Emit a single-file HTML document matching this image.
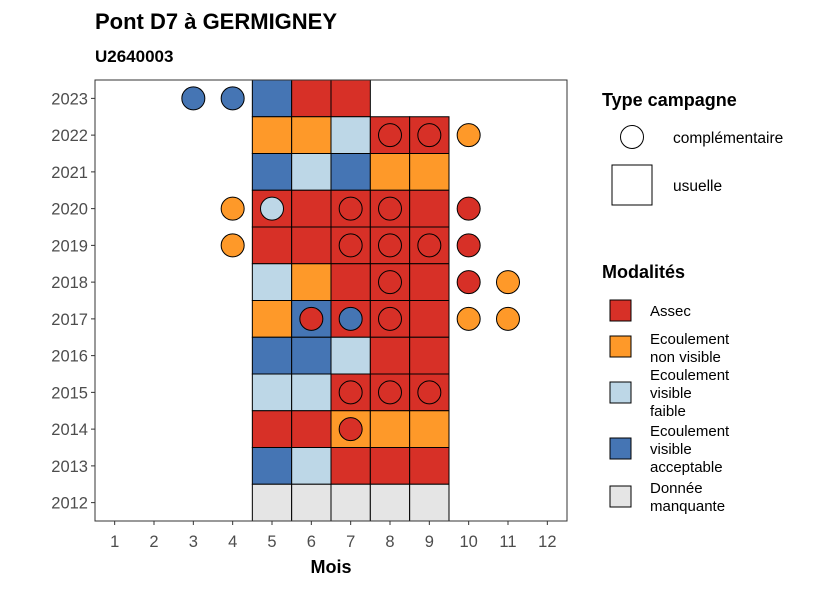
<!DOCTYPE html>
<html><head><meta charset="utf-8"><style>
body{margin:0;background:#fff;font-family:"Liberation Sans",sans-serif}
</style></head><body>
<svg id="c" width="826" height="590" xmlns="http://www.w3.org/2000/svg" font-family="Liberation Sans, sans-serif">
<text x="95" y="29" font-size="22" font-weight="bold">Pont D7 à GERMIGNEY</text>
<text x="95" y="62" font-size="17" font-weight="bold">U2640003</text>
<g id="plot"></g>
<rect x="95" y="80" width="472" height="441" fill="none" stroke="#333" stroke-width="1"/>
<text x="331" y="573" font-size="18" font-weight="bold" text-anchor="middle">Mois</text>
<g>
<text x="602" y="106" font-size="18" font-weight="bold">Type campagne</text>
<circle cx="632" cy="137" r="11.5" fill="#fff" stroke="#000"/>
<text x="673" y="143" font-size="15.5">complémentaire</text>
<rect x="612" y="165" width="40" height="40" fill="#fff" stroke="#000"/>
<text x="673" y="191" font-size="15.5">usuelle</text>
</g>
<g>
<text x="602" y="278" font-size="18" font-weight="bold">Modalités</text>
<rect x="610" y="300" width="21" height="21" fill="#d73027" stroke="#000"/>
<text x="650" y="316" font-size="15">Assec</text>
<rect x="610" y="336" width="21" height="21" fill="#fe9929" stroke="#000"/>
<text x="650" y="344" font-size="15"><tspan x="650">Ecoulement</tspan><tspan x="650" dy="18">non visible</tspan></text>
<rect x="610" y="382" width="21" height="21" fill="#bdd7e7" stroke="#000"/>
<text x="650" y="380" font-size="15"><tspan x="650">Ecoulement</tspan><tspan x="650" dy="18">visible</tspan><tspan x="650" dy="18">faible</tspan></text>
<rect x="610" y="438" width="21" height="21" fill="#4575b4" stroke="#000"/>
<text x="650" y="436" font-size="15"><tspan x="650">Ecoulement</tspan><tspan x="650" dy="18">visible</tspan><tspan x="650" dy="18">acceptable</tspan></text>
<rect x="610" y="486" width="21" height="21" fill="#e5e5e5" stroke="#000"/>
<text x="650" y="493" font-size="15"><tspan x="650">Donnée</tspan><tspan x="650" dy="18">manquante</tspan></text>
</g>
</svg>
<script>
const months=[1,2,3,4,5,6,7,8,9,10,11,12];
const years=[2012,2013,2014,2015,2016,2017,2018,2019,2020,2021,2022,2023];
const tileYears=[2023,2023,2023,2022,2022,2022,2022,2022,2021,2021,2021,2021,2021,2020,2020,2020,2020,2020,2019,2019,2019,2019,2019,2018,2018,2018,2018,2018,2017,2017,2017,2017,2017,2016,2016,2016,2016,2016,2015,2015,2015,2015,2015,2014,2014,2014,2014,2014,2013,2013,2013,2013,2013,2012,2012,2012,2012,2012];
const tileMonths=[5,6,7,5,6,7,8,9,5,6,7,8,9,5,6,7,8,9,5,6,7,8,9,5,6,7,8,9,5,6,7,8,9,5,6,7,8,9,5,6,7,8,9,5,6,7,8,9,5,6,7,8,9,5,6,7,8,9];
const tileMods=["A","R","R","O","O","L","R","R","A","L","A","O","O","R","R","R","R","R","R","R","R","R","R","L","O","R","R","R","O","A","R","R","R","A","A","L","R","R","L","L","R","R","R","R","R","O","O","O","A","L","R","R","R","G","G","G","G","G"];
const ptYears=[2023,2023,2022,2022,2022,2020,2020,2020,2020,2020,2019,2019,2019,2019,2019,2018,2018,2018,2017,2017,2017,2017,2017,2015,2015,2015,2014];
const ptMonths=[3,4,8,9,10,4,5,7,8,10,4,7,8,9,10,8,10,11,6,7,8,10,11,7,8,9,7];
const ptMods=["A","A","R","R","O","O","L","R","R","R","O","R","R","R","R","R","R","O","R","A","R","O","O","R","R","R","R"];
const colors={R:"#d73027",O:"#fe9929",L:"#bdd7e7",A:"#4575b4",G:"#e5e5e5"};
const X0=95,X1=567,Y0=80,Y1=521;
const xs=m=>X0+(m-0.5)/12*(X1-X0);
const ys=y=>Y1-(y-2012+0.5)/12*(Y1-Y0);
const bw=(X1-X0)/12,bh=(Y1-Y0)/12;
const g=document.getElementById('plot');
const NS="http://www.w3.org/2000/svg";
function mk(t,a){const e=document.createElementNS(NS,t);for(const k in a)e.setAttribute(k,a[k]);g.appendChild(e);return e;}
tileYears.forEach((y,i)=>{
 const e=mk('rect',{x:xs(tileMonths[i])-bw/2,y:ys(y)-bh/2,width:bw,height:bh,fill:colors[tileMods[i]],stroke:'#000','stroke-width':1});
 
 
});
ptYears.forEach((y,i)=>{
 const e=mk('circle',{cx:xs(ptMonths[i]),cy:ys(y),r:11.5,fill:colors[ptMods[i]],stroke:'#000','stroke-width':1});
 
 
});
months.forEach(m=>{
 const t=mk('line',{x1:xs(m),x2:xs(m),y1:Y1,y2:Y1+4,stroke:'#333'});
 
 
 const l=mk('text',{x:xs(m),y:Y1+26,'font-size':16.5,'text-anchor':'middle',fill:'#4d4d4d'});
 l.textContent=m;
 
 
});
years.forEach(y=>{
 const t=mk('line',{x1:X0-4,x2:X0,y1:ys(y),y2:ys(y),stroke:'#333'});
 
 
 const l=mk('text',{x:X0-7,y:ys(y)+6,'font-size':16.5,'text-anchor':'end',fill:'#4d4d4d'});
 l.textContent=y;
 
 
});
</script>
</body></html>
